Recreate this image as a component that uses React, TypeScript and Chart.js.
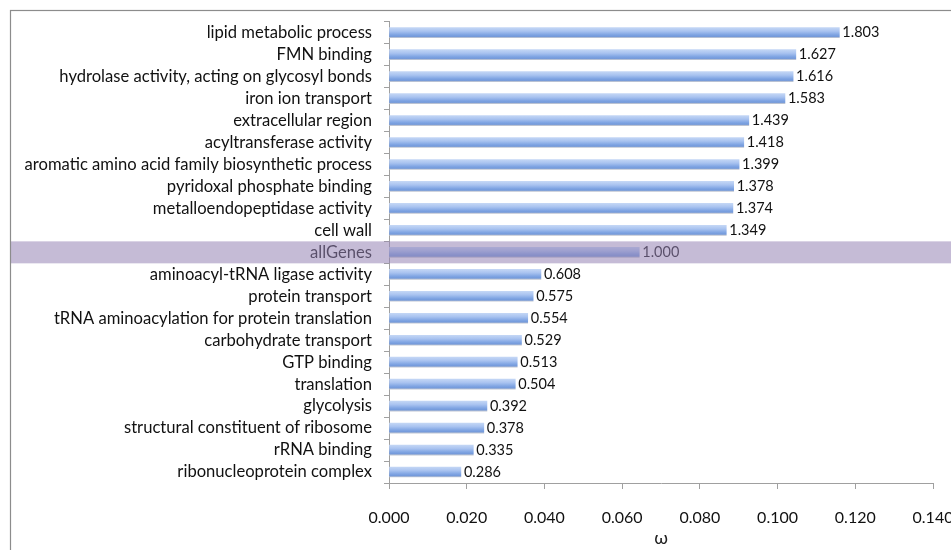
import React, { useEffect, useRef } from "react";
import { Chart, registerables } from "chart.js";

Chart.register(...registerables);

const categories = [
  "lipid metabolic process",
  "FMN binding",
  "hydrolase activity, acting on glycosyl bonds",
  "iron ion transport",
  "extracellular region",
  "acyltransferase activity",
  "aromatic amino acid family biosynthetic process",
  "pyridoxal phosphate binding",
  "metalloendopeptidase activity",
  "cell wall",
  "allGenes",
  "aminoacyl-tRNA ligase activity",
  "protein transport",
  "tRNA aminoacylation for protein translation",
  "carbohydrate transport",
  "GTP binding",
  "translation",
  "glycolysis",
  "structural constituent of ribosome",
  "rRNA binding",
  "ribonucleoprotein complex",
];

const omegaValues = [
  0.1159, 0.1047, 0.104, 0.1019, 0.0926, 0.0913, 0.0901, 0.0887, 0.0885, 0.0868,
  0.0644, 0.0391, 0.0371, 0.0357, 0.0341, 0.033, 0.0325, 0.0252, 0.0244, 0.0217,
  0.0185,
];

const ratioLabels = [
  "1.803", "1.627", "1.616", "1.583", "1.439", "1.418", "1.399", "1.378", "1.374",
  "1.349", "1.000", "0.608", "0.575", "0.554", "0.529", "0.513", "0.504", "0.392",
  "0.378", "0.335", "0.286",
];

const highlightCategory = "allGenes";
const xTickMin = 0;
const xTickMax = 0.14;
const xTickStep = 0.02;
const xTitle = "ω";

const FONT = "Lato, 'Open Sans', sans-serif";

export default function App() {
  const canvasRef = useRef<HTMLCanvasElement | null>(null);

  useEffect(() => {
    const canvas = canvasRef.current;
    if (!canvas) return;

    const framePlugin = {
      id: "frameAndLabels",
      afterDatasetsDraw(chart: any) {
        const ctx = chart.ctx;
        const meta = chart.getDatasetMeta(0);
        ctx.save();
        ctx.font = `14.5px ${FONT}`;
        ctx.fillStyle = "#111";
        ctx.textAlign = "left";
        ctx.textBaseline = "middle";
        meta.data.forEach((el: any, i: number) => {
          ctx.fillText(ratioLabels[i], el.x + 3, el.y);
        });
        ctx.restore();
      },
      afterDraw(chart: any) {
        const ctx = chart.ctx;
        const ys = chart.scales.y;
        const idx = categories.indexOf(highlightCategory);
        const band = (ys.bottom - ys.top) / categories.length;
        const yc = ys.getPixelForValue(idx);
        ctx.save();
        ctx.fillStyle = "rgba(150,132,180,0.55)";
        ctx.fillRect(10, yc - band / 2, chart.width, band);
        ctx.strokeStyle = "#8c8c8c";
        ctx.lineWidth = 1.2;
        ctx.strokeRect(10.5, 10.5, chart.width + 20, chart.height + 20);
        ctx.restore();
      },
    };

    const chart = new Chart(canvas, {
      type: "bar",
      data: {
        labels: categories,
        datasets: [
          {
            data: omegaValues,
            barThickness: 10,
            backgroundColor: (c: any) => {
              const ch = c.chart;
              const ys = ch.scales && ch.scales.y;
              if (!ys || c.dataIndex == null) return "#8fb0e6";
              const yc = ys.getPixelForValue(c.dataIndex);
              if (!Number.isFinite(yc)) return "#8fb0e6";
              const g = ch.ctx.createLinearGradient(0, yc - 5, 0, yc + 5);
              g.addColorStop(0, "#c3d6f5");
              g.addColorStop(0.35, "#a9c3f0");
              g.addColorStop(0.7, "#80a5e3");
              g.addColorStop(0.88, "#7399da");
              g.addColorStop(1, "#c0c6d2");
              return g;
            },
            borderWidth: 0,
          },
        ],
      },
      options: {
        indexAxis: "y",
        responsive: false,
        animation: false,
        events: [],
        layout: { padding: { top: 21.7, right: 18, left: 0, bottom: 0 } },
        plugins: {
          legend: { display: false },
          tooltip: { enabled: false },
          title: { display: false },
        },
        scales: {
          y: {
            type: "category",
            offset: true,
            grid: {
              display: true,
              drawOnChartArea: false,
              offset: true,
              tickLength: 5,
              color: "#a0a0a0",
            },
            border: { color: "#a0a0a0" },
            ticks: {
              padding: 12,
              autoSkip: false,
              font: { family: FONT, size: 16.6 },
              color: "#111",
            },
            afterFit(scale: any) {
              scale.width = 389;
              scale.paddingTop = 0;
              scale.paddingBottom = 0;
            },
          },
          x: {
            type: "linear",
            min: xTickMin,
            max: xTickMax,
            grid: {
              display: true,
              drawOnChartArea: false,
              tickLength: 6,
              color: "#a0a0a0",
            },
            border: { color: "#a0a0a0" },
            ticks: {
              stepSize: xTickStep,
              padding: 19,
              font: { family: FONT, size: 16 },
              color: "#111",
              callback: (v: any) => Number(v).toFixed(3),
            },
            title: {
              display: true,
              text: xTitle,
              font: { family: FONT, size: 18 },
              color: "#222",
              padding: { top: 0, bottom: 1 },
            },
            afterFit(scale: any) {
              scale.height = 67;
              scale.paddingLeft = 0;
              scale.paddingRight = 0;
            },
          },
        },
      },
      plugins: [framePlugin],
    } as any);

    return () => chart.destroy();
  }, []);

  return (
    <div
      style={{
        position: "fixed",
        left: 0,
        top: 0,
        width: 951,
        height: 550,
        background: "#fff",
      }}
    >
      <canvas ref={canvasRef} width={951} height={550} style={{ display: "block" }} />
    </div>
  );
}
